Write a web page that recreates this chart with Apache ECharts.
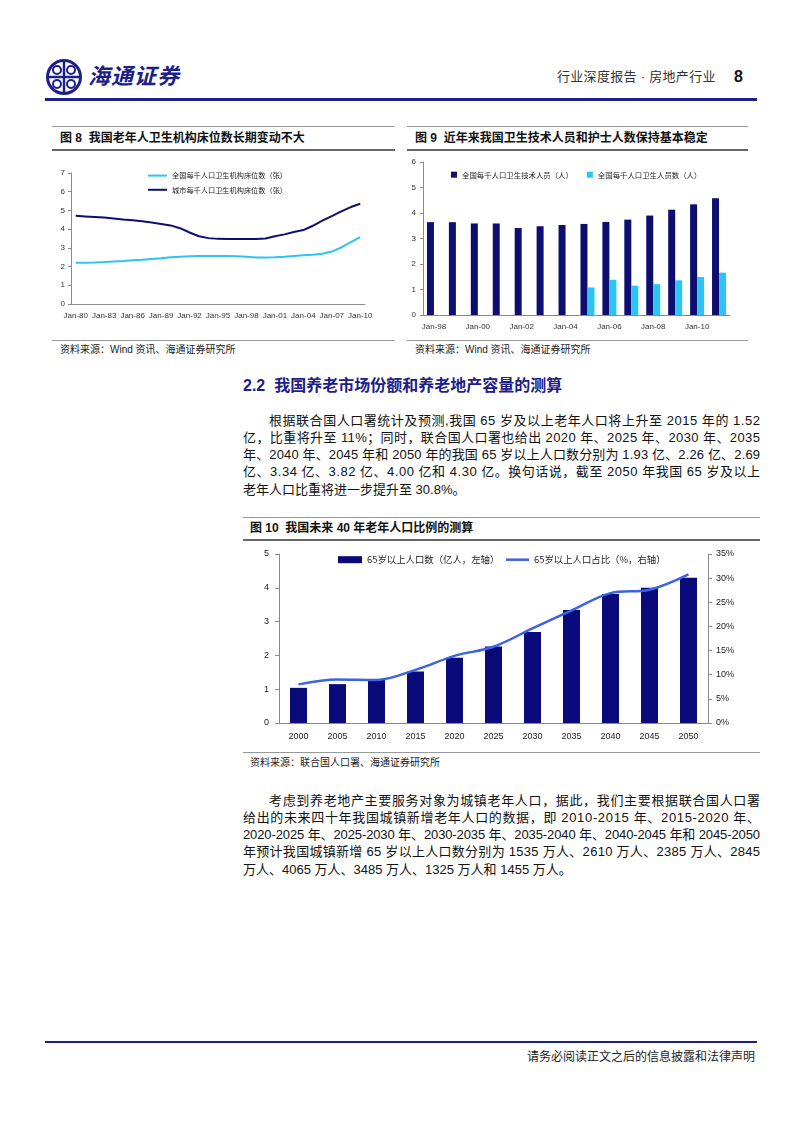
<!DOCTYPE html>
<html><head><meta charset="utf-8">
<script src="https://cdn.jsdelivr.net/npm/echarts@6/dist/echarts.min.js"></script>
<style>
html,body{margin:0;padding:0;background:#fff;}
body{width:802px;height:1133px;position:relative;overflow:hidden;font-family:"Liberation Sans","Noto Sans CJK SC",sans-serif;color:#000;}
.rule{position:absolute;height:0;}
.ttl{position:absolute;font-weight:bold;font-size:12px;white-space:nowrap;line-height:14px;color:#111;}
.src{position:absolute;font-size:10px;white-space:nowrap;line-height:12px;color:#222;}
.ln{position:absolute;left:243px;width:517px;height:18px;line-height:18px;font-size:13px;white-space:nowrap;color:#111;}
.ln span{white-space:nowrap;}
.ind{padding-left:26px;}
.chart{position:absolute;}
</style>
</head><body>

<!-- header -->
<svg style="position:absolute;left:44px;top:57px" width="40" height="40" viewBox="0 0 40 40">
  <circle cx="20" cy="20" r="16.5" fill="none" stroke="#1d2088" stroke-width="3"/>
  <line x1="20" y1="5" x2="20" y2="35" stroke="#1d2088" stroke-width="2.5"/>
  <line x1="5" y1="20" x2="35" y2="20" stroke="#1d2088" stroke-width="2.5"/>
  <circle cx="13" cy="13" r="4" fill="none" stroke="#1d2088" stroke-width="2"/>
  <circle cx="27" cy="13" r="4" fill="none" stroke="#1d2088" stroke-width="2"/>
  <circle cx="13" cy="27" r="4" fill="none" stroke="#1d2088" stroke-width="2"/>
  <circle cx="27" cy="27" r="4" fill="none" stroke="#1d2088" stroke-width="2"/>
</svg>
<div style="position:absolute;left:88px;top:63px;font-size:22px;line-height:28px;font-weight:bold;font-style:italic;color:#1d2088;letter-spacing:1px;">海通证券</div>
<div style="position:absolute;left:557px;top:69px;font-size:13px;line-height:16px;color:#333;white-space:nowrap;letter-spacing:0.3px;">行业深度报告 · 房地产行业</div>
<div style="position:absolute;left:734px;top:68px;font-size:16px;line-height:18px;font-weight:bold;color:#111;">8</div>
<div class="rule" style="left:45px;top:98px;width:712px;border-top:3px solid #1d2088;"></div>

<!-- figure 8 / 9 frames -->
<div class="rule" style="left:52px;top:126px;width:343px;border-top:1px solid #999;"></div>
<div class="ttl" style="left:60px;top:131px;">图 8&nbsp; 我国老年人卫生机构床位数长期变动不大</div>
<div class="rule" style="left:52px;top:149px;width:343px;border-top:2px solid #666;"></div>
<div class="rule" style="left:52px;top:340px;width:343px;border-top:1px solid #999;"></div>
<div class="src" style="left:60px;top:344px;">资料来源：Wind 资讯、海通证券研究所</div>

<div class="rule" style="left:407px;top:126px;width:341px;border-top:1px solid #999;"></div>
<div class="ttl" style="left:415px;top:131px;">图 9&nbsp; 近年来我国卫生技术人员和护士人数保持基本稳定</div>
<div class="rule" style="left:407px;top:149px;width:341px;border-top:2px solid #666;"></div>
<div class="rule" style="left:407px;top:340px;width:341px;border-top:1px solid #999;"></div>
<div class="src" style="left:415px;top:344px;">资料来源：Wind 资讯、海通证券研究所</div>

<div id="c8" class="chart" style="left:40px;top:150px;width:360px;height:188px;"></div>
<div id="c9" class="chart" style="left:400px;top:150px;width:400px;height:188px;"></div>

<!-- section -->
<div style="position:absolute;left:243px;top:376px;font-size:16px;line-height:20px;font-weight:bold;color:#1d2088;white-space:nowrap;">2.2&nbsp; 我国养老市场份额和养老地产容量的测算</div>

<div class="ln j ind" style="top:412px;"><span>根据联合国人口署统计及预测,我国 65 岁及以上老年人口将上升至 2015 年的 1.52</span></div>
<div class="ln j" style="top:429px;"><span>亿，比重将升至 11%；同时，联合国人口署也给出 2020 年、2025 年、2030 年、2035</span></div>
<div class="ln j" style="top:446px;"><span>年、2040 年、2045 年和 2050 年的我国 65 岁以上人口数分别为 1.93 亿、2.26 亿、2.69</span></div>
<div class="ln j" style="top:463px;"><span>亿、3.34 亿、3.82 亿、4.00 亿和 4.30 亿。换句话说，截至 2050 年我国 65 岁及以上</span></div>
<div class="ln" style="top:481px;"><span>老年人口比重将进一步提升至 30.8%。</span></div>

<!-- figure 10 -->
<div class="rule" style="left:243px;top:517px;width:517px;border-top:1px solid #999;"></div>
<div class="ttl" style="left:250px;top:521px;">图 10&nbsp; 我国未来 40 年老年人口比例的测算</div>
<div class="rule" style="left:243px;top:539px;width:517px;border-top:2px solid #666;"></div>
<div class="rule" style="left:243px;top:752px;width:517px;border-top:1px solid #999;"></div>
<div class="src" style="left:250px;top:757px;">资料来源：联合国人口署、海通证券研究所</div>
<div id="c10" class="chart" style="left:240px;top:540px;width:520px;height:210px;"></div>

<div class="ln j ind" style="top:792px;"><span>考虑到养老地产主要服务对象为城镇老年人口，据此，我们主要根据联合国人口署</span></div>
<div class="ln j" style="top:809px;"><span>给出的未来四十年我国城镇新增老年人口的数据，即 2010-2015 年、2015-2020 年、</span></div>
<div class="ln j" style="top:826px;"><span>2020-2025 年、2025-2030 年、2030-2035 年、2035-2040 年、2040-2045 年和 2045-2050</span></div>
<div class="ln j" style="top:843px;"><span>年预计我国城镇新增 65 岁以上人口数分别为 1535 万人、2610 万人、2385 万人、2845</span></div>
<div class="ln" style="top:861px;"><span>万人、4065 万人、3485 万人、1325 万人和 1455 万人。</span></div>

<!-- footer -->
<div class="rule" style="left:45px;top:1041px;width:712px;border-top:2px solid #1d2088;"></div>
<div style="position:absolute;left:527px;top:1050px;font-size:12px;line-height:14px;color:#222;white-space:nowrap;">请务必阅读正文之后的信息披露和法律声明</div>

<script>
// ---------- Figure 8 data ----------
const labels8 = ['Jan-80','Jan-81','Jan-82','Jan-83','Jan-84','Jan-85','Jan-86','Jan-87','Jan-88','Jan-89',
  'Jan-90','Jan-91','Jan-92','Jan-93','Jan-94','Jan-95','Jan-96','Jan-97','Jan-98','Jan-99',
  'Jan-00','Jan-01','Jan-02','Jan-03','Jan-04','Jan-05','Jan-06','Jan-07','Jan-08','Jan-09','Jan-10'];
const national8 = [2.20,2.21,2.22,2.24,2.27,2.30,2.34,2.37,2.41,2.45,2.50,2.53,2.55,2.56,2.56,2.56,2.56,2.55,2.52,2.49,2.48,2.50,2.53,2.57,2.61,2.63,2.69,2.80,3.02,3.30,3.58];
const urban8 = [4.71,4.68,4.65,4.62,4.57,4.52,4.48,4.42,4.35,4.28,4.20,4.05,3.82,3.62,3.52,3.48,3.47,3.47,3.47,3.47,3.50,3.62,3.72,3.85,3.95,4.18,4.45,4.70,4.95,5.18,5.36];
const names8 = ['全国每千人口卫生机构床位数（张）','城市每千人口卫生机构床位数（张）'];

// ---------- Figure 9 data ----------
const labels9 = ['Jan-98','Jan-99','Jan-00','Jan-01','Jan-02','Jan-03','Jan-04','Jan-05','Jan-06','Jan-07','Jan-08','Jan-09','Jan-10','Jan-11'];
const tech9 = [3.64,3.64,3.59,3.59,3.41,3.48,3.53,3.57,3.65,3.74,3.90,4.13,4.34,4.58];
const staff9 = [null,null,null,null,null,null,null,1.08,1.38,1.15,1.21,1.36,1.49,1.66];
const names9 = ['全国每千人口卫生技术人员（人）','全国每千人口卫生人员数（人）'];

// ---------- Figure 10 data ----------
const years10 = ['2000','2005','2010','2015','2020','2025','2030','2035','2040','2045','2050'];
const pop10 = [1.04,1.15,1.29,1.52,1.93,2.26,2.69,3.34,3.82,4.00,4.30];
const ratio10 = [8.0,9.0,8.9,11.0,13.9,15.8,19.6,23.3,26.9,27.6,30.8];
const names10 = ['65岁以上人口数（亿人，左轴）','65岁以上人口占比（%，右轴）'];

// justify each paragraph line to the text column width
document.querySelectorAll('.ln.j').forEach(el => {
  const sp = el.querySelector('span');
  const ind = el.classList.contains('ind') ? 26 : 0;
  const w = sp.getBoundingClientRect().width;
  const n = Array.from(sp.textContent).length;
  const ls = (517 - ind - w) / (n - 1);
  sp.style.letterSpacing = ls + 'px';
});

const LIGHT = '#2CC4F2', NAVY = '#0E0E70', AX = '#8a8a8a';
const numFont = 'Liberation Sans';
const cjkFont = 'Noto Sans CJK SC';

const c8 = echarts.init(document.getElementById('c8'));
c8.setOption({
  animation:false,
  grid:{left:31,top:23,width:294,height:131},
  legend:{orient:'vertical',left:103,top:17,itemWidth:19,itemHeight:2,itemGap:7,icon:'rect',
    textStyle:{fontSize:7.2,fontFamily:cjkFont,color:'#222'},data:names8},
  xAxis:{type:'category',data:labels8,boundaryGap:true,
    axisLine:{lineStyle:{color:AX}},
    axisTick:{interval:2,length:3,lineStyle:{color:AX}},
    axisLabel:{interval:2,fontSize:8,color:'#333',margin:8,fontFamily:numFont}},
  yAxis:{type:'value',min:0,max:7,interval:1,
    axisLine:{show:true,lineStyle:{color:AX}},
    axisTick:{show:true,length:3,lineStyle:{color:AX}},
    splitLine:{show:false},
    axisLabel:{fontSize:8,color:'#333',margin:6,fontFamily:numFont}},
  series:[
    {name:names8[0],type:'line',data:national8,symbol:'none',lineStyle:{color:LIGHT,width:2},itemStyle:{color:LIGHT}},
    {name:names8[1],type:'line',data:urban8,symbol:'none',lineStyle:{color:NAVY,width:2},itemStyle:{color:NAVY}}
  ]
});

const c9 = echarts.init(document.getElementById('c9'));
c9.setOption({
  animation:false,
  grid:{left:23,top:12,width:307,height:153},
  legend:{left:46,top:16,itemWidth:6,itemHeight:6,itemGap:14,icon:'rect',
    textStyle:{fontSize:7.4,fontFamily:cjkFont,color:'#222'},data:names9},
  xAxis:{type:'category',data:labels9,boundaryGap:true,
    axisLine:{lineStyle:{color:AX}},
    axisTick:{interval:1,length:3,lineStyle:{color:AX}},
    axisLabel:{interval:1,fontSize:8,color:'#333',margin:8,fontFamily:numFont}},
  yAxis:{type:'value',min:0,max:6,interval:1,
    axisLine:{show:true,lineStyle:{color:AX}},
    axisTick:{show:true,length:3,lineStyle:{color:AX}},
    splitLine:{show:false},
    axisLabel:{fontSize:8,color:'#333',margin:7,fontFamily:numFont}},
  series:[
    {name:names9[0],type:'bar',data:tech9,barWidth:7,barGap:'0%',itemStyle:{color:NAVY}},
    {name:names9[1],type:'bar',data:staff9,barWidth:7,barGap:'0%',itemStyle:{color:LIGHT}}
  ]
});

const c10 = echarts.init(document.getElementById('c10'));
c10.setOption({
  animation:false,
  grid:{left:39,top:14,width:429,height:169},
  legend:[
    {left:93,top:10,itemWidth:24,itemHeight:7,icon:'rect',
      textStyle:{fontSize:9.4,fontFamily:cjkFont,color:'#222'},data:[names10[0]]},
    {left:261,top:10,itemWidth:23,itemHeight:2.5,icon:'rect',
      textStyle:{fontSize:9.4,fontFamily:cjkFont,color:'#222'},data:[names10[1]]}
  ],
  xAxis:{type:'category',data:years10,boundaryGap:true,
    axisLine:{lineStyle:{color:AX}},
    axisTick:{length:4,lineStyle:{color:AX}},
    axisLabel:{fontSize:9,color:'#222',margin:9,fontFamily:numFont}},
  yAxis:[
    {type:'value',min:0,max:5,interval:1,position:'left',
      axisLine:{show:true,lineStyle:{color:AX}},
      axisTick:{show:true,length:4,lineStyle:{color:AX}},
      splitLine:{show:false},
      axisLabel:{fontSize:9,color:'#222',margin:10,fontFamily:numFont}},
    {type:'value',min:0,max:35,interval:5,position:'right',
      axisLine:{show:true,lineStyle:{color:AX}},
      axisTick:{show:true,length:4,lineStyle:{color:AX}},
      splitLine:{show:false},
      axisLabel:{fontSize:9,color:'#222',margin:8,fontFamily:numFont,formatter:'{value}%'}}
  ],
  series:[
    {name:names10[0],type:'bar',data:pop10,barWidth:17,yAxisIndex:0,itemStyle:{color:'#0A0A7A'}},
    {name:names10[1],type:'line',data:ratio10,yAxisIndex:1,smooth:0.35,symbol:'none',
      lineStyle:{color:'#3B63E4',width:2.5},itemStyle:{color:'#3B63E4'}}
  ]
});
</script>
</body></html>
